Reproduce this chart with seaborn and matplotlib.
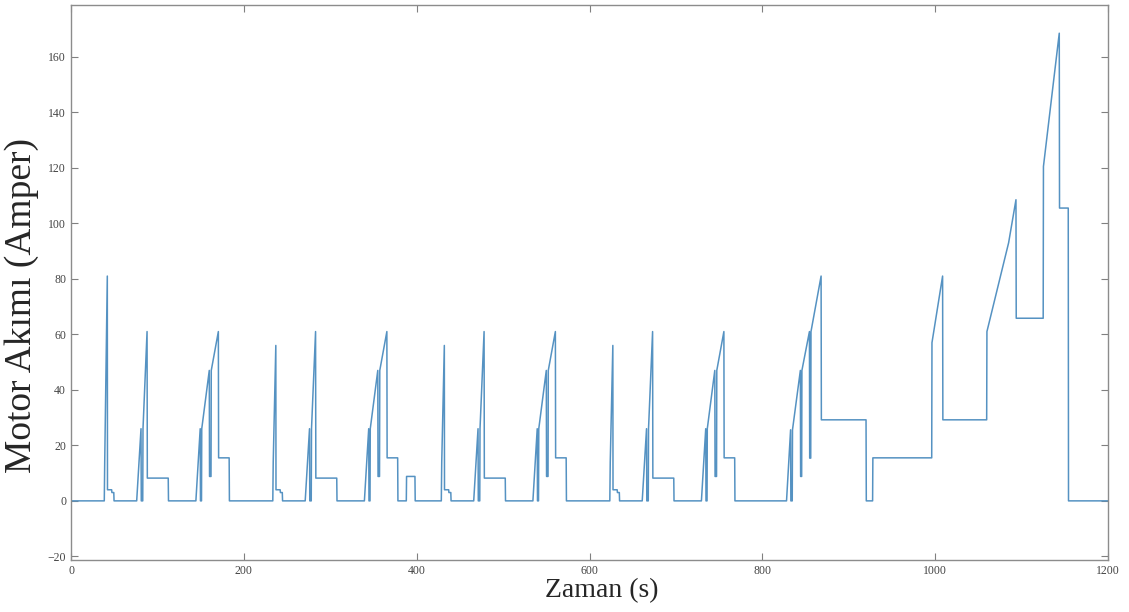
import numpy as np
import pandas as pd
import matplotlib
matplotlib.use("Agg")
import matplotlib.pyplot as plt
import seaborn as sns

# motor current, one block per drive segment
cycle1_t = [0, 38.5, 39, 42, 42.2, 47, 47.3, 49.5, 49.8, 76, 81, 81.3, 83, 83.3, 88, 88.3,
            112.5, 112.8, 144.5, 149.5, 149.8, 151, 151.3, 160, 160.3, 162, 162.3, 170.5,
            170.8, 183, 183.3]
cycle1_i = [0, 0, 14, 81, 4, 4, 3, 3, 0, 0, 26, 0, 0, 26, 61, 8.2,
            8.2, 0, 0, 26, 0, 0, 26, 47, 8.8, 8.8, 47, 61,
            15.5, 15.5, 0]

cycle2_t = [233.5, 234, 237, 237.2, 242, 242.3, 244.5, 244.8, 271, 276, 276.3, 278, 278.3,
            283, 283.3, 307.5, 307.8, 339.5, 344.5, 344.8, 346, 346.3, 355, 355.3, 357,
            357.3, 365.5, 365.8, 378, 378.3, 388, 388.3, 398, 398.3]
cycle2_i = [0, 14, 56, 4, 4, 3, 3, 0, 0, 26, 0, 0, 26,
            61, 8.2, 8.2, 0, 0, 26, 0, 0, 26, 47, 8.8, 8.8,
            47, 61, 15.5, 15.5, 0, 0, 8.8, 8.8, 0]

cycle3_t = [428.5, 429, 432, 432.2, 437, 437.3, 439.5, 439.8, 466, 471, 471.3, 473, 473.3,
            478, 478.3, 502.5, 502.8, 534.5, 539.5, 539.8, 541, 541.3, 550, 550.3, 552,
            552.3, 560.5, 560.8, 573, 573.3]
cycle3_i = [0, 14, 56, 4, 4, 3, 3, 0, 0, 26, 0, 0, 26,
            61, 8.2, 8.2, 0, 0, 26, 0, 0, 26, 47, 8.8, 8.8,
            47, 61, 15.5, 15.5, 0]

cycle4_t = [623.5, 624, 627, 627.2, 632, 632.3, 634.5, 634.8, 661, 666, 666.3, 668, 668.3,
            673, 673.3, 697.5, 697.8, 729.5, 734.5, 734.8, 736, 736.3, 745, 745.3, 747,
            747.3, 755.5, 755.8, 768, 768.3]
cycle4_i = [0, 14, 56, 4, 4, 3, 3, 0, 0, 26, 0, 0, 26,
            61, 8.2, 8.2, 0, 0, 26, 0, 0, 26, 47, 8.8, 8.8,
            47, 61, 15.5, 15.5, 0]

extra_t = [828, 832.7, 833, 834.6, 834.9, 844, 844.3, 845.5, 845.8, 854.5, 854.8, 856, 856.3,
           868, 868.3, 920, 920.3, 927.6, 927.9, 996, 996.3, 1008.6, 1008.9, 1059.6, 1059.9,
           1085, 1093.5, 1093.8, 1125, 1125.3, 1143.6, 1143.9, 1154, 1154.3, 1200]
extra_i = [0, 25.6, 0, 0, 25.6, 47, 8.8, 8.8, 47, 61, 15.4, 15.4, 61,
           81, 29.2, 29.2, 0, 0, 15.5, 15.5, 57, 81, 29.2, 29.2, 61,
           93, 108.5, 65.8, 65.8, 120.5, 168.5, 105.5, 105.5, 0, 0]

df = pd.DataFrame({
    "t": np.concatenate([cycle1_t, cycle2_t, cycle3_t, cycle4_t, extra_t]),
    "i": np.concatenate([cycle1_i, cycle2_i, cycle3_i, cycle4_i, extra_i]),
})

sns.set_style("ticks")
plt.rcParams["font.family"] = ["Liberation Serif", "DejaVu Serif"]

fig = plt.figure(figsize=(11.29, 6.12), dpi=100)
ax = fig.add_axes([0.0629, 0.085, 0.9185, 0.907])

sns.lineplot(data=df, x="t", y="i", ax=ax, color="#5592c2", linewidth=1.1,
             estimator=None, sort=False)

ax.set_xlim(0, 1200)
ax.set_ylim(-21.3, 178.7)
ax.set_xticks(np.arange(0, 1201, 200))
ax.set_yticks(np.arange(-20, 161, 20))
ax.tick_params(direction="in", length=5, width=0.8, colors="#808080",
               labelcolor="#444444", labelsize=8.5, top=True, right=True)
for s in ax.spines.values():
    s.set_color("#8c8c8c")
    s.set_linewidth(1)

ax.set_xlabel("Zaman (s)", fontsize=20, va="center")
ax.xaxis.set_label_coords(0.512, -0.056)
ax.set_ylabel("Motor Akımı (Amper)", fontsize=27, va="center")
ax.yaxis.set_label_coords(-0.048, 0.459)

fig.savefig("out.png", dpi=100)
